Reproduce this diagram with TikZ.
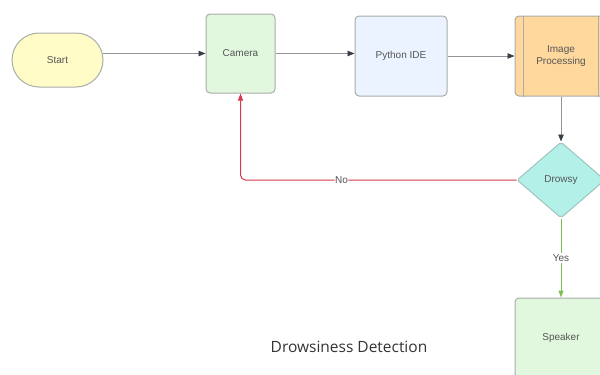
\documentclass[tikz,border=0pt]{standalone}
\usepackage{fontspec}
\setmainfont{Liberation Sans}
\newfontfamily\titlefont{Open Sans}
\usetikzlibrary{arrows.meta}
\usetikzlibrary{shapes.geometric}

\definecolor{startfill}{HTML}{FFFCC8}
\definecolor{greenfill}{HTML}{E1F8DF}
\definecolor{bluefill}{HTML}{EAF3FF}
\definecolor{orangefill}{HTML}{FFD89E}
\definecolor{tealfill}{HTML}{B2F0E8}
\definecolor{boxline}{HTML}{A9ADA9}
\definecolor{noline}{HTML}{D8374A}
\definecolor{yesline}{HTML}{7DC04E}
\definecolor{flowline}{HTML}{3A3E46}
\definecolor{labeltext}{HTML}{555555}

\tikzset{
  box/.style={draw=boxline, line width=1pt, rounded corners=4pt,
    font=\fontsize{10}{12}\selectfont, text=labeltext, align=center, inner sep=0pt},
  flow/.style={draw=flowline!55, line width=0.8pt, -{Triangle[length=7pt,width=5.5pt,color=flowline]}},
}

\begin{document}
\begin{tikzpicture}[x=1pt, y=-1pt]
\useasboundingbox (0,0) rectangle (600,375);
\clip (0,0) rectangle (600,375);

% boxes
\node[box, fill=startfill, minimum width=91pt, minimum height=54pt, rounded corners=27pt] (start) at (57.5,60) {Start};
\node[box, fill=greenfill, minimum width=69pt, minimum height=79pt] (camera) at (240.5,53.5) {Camera};
\node[box, fill=bluefill, minimum width=92pt, minimum height=80pt] (ide) at (401,56) {Python IDE};
\node[box, fill=orangefill, minimum width=92pt, minimum height=80pt] (proc) at (561,56) {Image\\Processing};
\draw[boxline, line width=1pt] ([xshift=9pt]proc.north west) -- ([xshift=9pt]proc.south west);
\draw[boxline, line width=1pt] ([xshift=-9pt]proc.north east) -- ([xshift=-9pt]proc.south east);
\node[box, diamond, fill=tealfill, draw=tealfill!60!gray, rounded corners=2pt, minimum width=88pt, minimum height=76pt] (drowsy) at (561,180) {Drowsy};
\node[box, fill=greenfill, minimum width=92pt, minimum height=80pt] (speaker) at (561,338) {};
\node[font=\fontsize{10}{12}\selectfont, text=labeltext] at (speaker.center) {Speaker};

% connectors
\draw[flow] ([xshift=-0.7pt]start.east |- camera) -- (camera.west);
\draw[flow] (camera.east) -- (camera.east -| ide.west);
\draw[flow] (ide.east) -- (proc.west);
\draw[flow] (proc.south) -- (drowsy.north);
\draw[noline, line width=1pt, rounded corners=5pt, -{Triangle[length=7pt,width=5pt]}]
  (drowsy.west) -| (camera.south)
  node[pos=0.317, fill=white, inner sep=0.5pt, text=labeltext, font=\fontsize{10}{12}\selectfont] {No};
\draw[yesline, line width=1pt, -{Triangle[length=7pt,width=5pt]}]
  (drowsy.south) -- (speaker.north)
  node[midway, fill=white, inner sep=1.5pt, text=labeltext, font=\fontsize{10}{12}\selectfont] {Yes};

% title
\node[font=\titlefont\fontsize{15.5}{18}\selectfont, text=black!80] (title) at (349,347) {Drowsiness Detection};
\end{tikzpicture}
\end{document}
